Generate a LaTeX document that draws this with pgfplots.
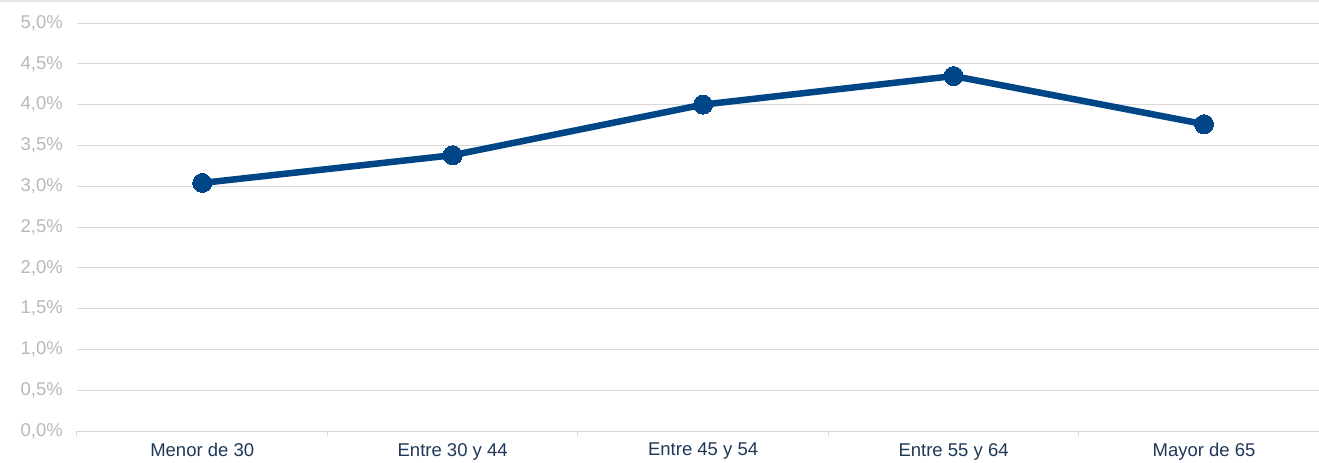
\documentclass[border=0pt]{standalone}
\usepackage{pgfplots}
\pgfplotsset{compat=1.18}
\usepackage{fontspec}
\setmainfont{Liberation Sans}
\definecolor{seriesblue}{HTML}{004586}
\definecolor{gridgray}{HTML}{D9D9D9}
\definecolor{ylabgray}{HTML}{B8B8B8}
\definecolor{xlabnavy}{HTML}{1F3858}
\definecolor{framegray}{HTML}{E6E6E6}

\pgfplotstableread{
x  val
0  3.04
1  3.38
2  4.00
3  4.35
4  3.76
}\datatable

\begin{document}
\begin{tikzpicture}[x=1bp,y=1bp]
\useasboundingbox (-77bp,-32bp) rectangle (1242bp,431bp);
\fill[framegray] (-77bp,428.5bp) rectangle (1242bp,431bp);
\begin{axis}[
  at={(0,0)}, anchor=south west,
  scale only axis,
  width=1242bp, height=408bp,
  xmin=-0.5, xmax=4.459,
  ymin=0, ymax=5,
  clip=false,
  axis line style={draw=none},
  axis x line*=bottom,
  axis y line*=left,
  % boundary ticks between categories
  xtick={-0.5,0.5,1.5,2.5,3.5},
  xticklabels={},
  major tick length=5bp,
  x tick style={draw=gridgray, line width=1bp},
  tick align=outside,
  % category names
  extra x ticks={0,1,2,3,4},
  extra x tick labels={Menor de 30,Entre 30 y 44,Entre 45 y 54,Entre 55 y 64,Mayor de 65},
  extra x tick style={
    major tick length=0pt,
    tick style={draw=none},
    xticklabel style={font=\fontsize{18.5bp}{20bp}\selectfont, text=xlabnavy, yshift=-9bp},
  },
  ytick={0,0.5,...,5},
  y tick style={draw=none},
  ymajorgrids=true,
  grid style={draw=gridgray, line width=1bp},
  yticklabel={\pgfmathprintnumber[fixed,fixed zerofill,precision=1,use comma]{\tick}\%},
  /pgf/number format/assume math mode=true,
  yticklabel style={font=\fontsize{18.5bp}{20bp}\selectfont, text=ylabgray, xshift=-6bp},
  tick label style={inner sep=3bp},
]
\addplot[draw=seriesblue, line width=6.5bp, mark=*, mark size=9.5bp,
  mark options={fill=seriesblue, draw=seriesblue, line width=0pt}]
  table[x=x, y=val] {\datatable};
\end{axis}
\end{tikzpicture}
\end{document}
